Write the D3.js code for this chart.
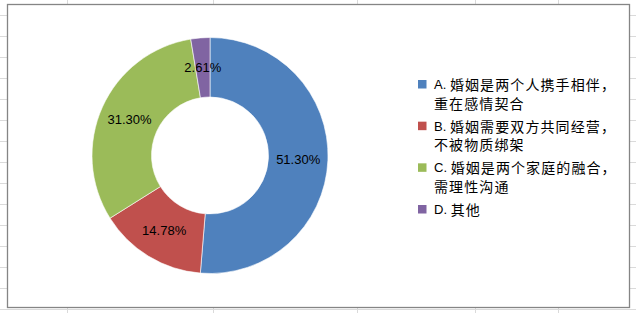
<!DOCTYPE html>
<html><head><meta charset="utf-8">
<script src="https://cdn.jsdelivr.net/npm/d3@7"></script>
<style>html,body{margin:0;padding:0;background:#fff;}svg{display:block;}</style>
</head><body>
<svg id="c" width="636" height="313"></svg>
<script>
const categories = ["A.", "B.", "C.", "D."];
const labelLines = [
  ["婚姻是两个人携手相伴，", "重在感情契合"],
  ["婚姻需要双方共同经营，", "不被物质绑架"],
  ["婚姻是两个家庭的融合，", "需理性沟通"],
  ["其他"]
];
const values = [51.30, 14.78, 31.30, 2.61];
const valueLabels = ["51.30%", "14.78%", "31.30%", "2.61%"];
const colors = ["#4F81BD", "#C0504D", "#9BBB59", "#8064A2"];

const svg = d3.select("#c");

// spreadsheet gridlines behind
const gridX = [67, 213, 357, 475, 558];
const gridY = d3.range(14.5, 313, 21);
svg.append("g").selectAll("line.v").data(gridX).join("line")
  .attr("x1", d => d + 0.5).attr("x2", d => d + 0.5).attr("y1", 0).attr("y2", 313)
  .attr("stroke", "#dadada").attr("stroke-width", 1);
svg.append("g").selectAll("line.h").data(gridY).join("line")
  .attr("x1", 0).attr("x2", 636).attr("y1", d => Math.round(d) + 0.5).attr("y2", d => Math.round(d) + 0.5)
  .attr("stroke", "#dadada").attr("stroke-width", 1);

// chart area
svg.append("rect").attr("x", 7.5).attr("y", 4.5).attr("width", 622).attr("height", 303)
  .attr("fill", "#fff").attr("stroke", "#858585").attr("stroke-width", 1.3);

const cx = 210, cy = 155.5, rOut = 118, rIn = 58.5;
const pie = d3.pie().sort(null).value(d => d)(values);
const arc = d3.arc().innerRadius(rIn).outerRadius(rOut);
const g = svg.append("g").attr("transform", `translate(${cx},${cy})`);
g.selectAll("path").data(pie).join("path")
  .attr("d", arc).attr("fill", (d, i) => colors[i])
  .attr("stroke", "#fff").attr("stroke-width", 0.6);
g.selectAll("text").data(pie).join("text")
  .attr("transform", d => `translate(${arc.centroid(d)})`)
  .attr("text-anchor", "middle").attr("dominant-baseline", "central")
  .attr("font-family", "Liberation Sans, Arial, sans-serif").attr("font-size", 13)
  .attr("fill", "#000")
  .text((d, i) => valueLabels[i]);

// legend
const legendY = d3.scalePoint().domain(categories).range([84, 209]);
const lg = svg.append("g");
categories.forEach((c, i) => {
  const y = legendY(c);
  lg.append("rect").attr("x", 418).attr("y", y - 4).attr("width", 8.5).attr("height", 8.5)
    .attr("fill", colors[i]);
  labelLines[i].forEach((line, j) => {
    const t = lg.append("text").attr("x", 434).attr("y", y + j * 18.5)
      .attr("dominant-baseline", "central").attr("fill", "#000")
      .attr("font-family", "Noto Sans CJK SC, sans-serif").attr("font-size", 14);
    if (j === 0) {
      t.append("tspan").attr("font-family", "Liberation Sans, Arial, sans-serif")
        .attr("font-size", 13).text(c + " ");
    }
    t.append("tspan").attr("letter-spacing", 1.1).text(line);
  });
});
</script>
</body></html>
